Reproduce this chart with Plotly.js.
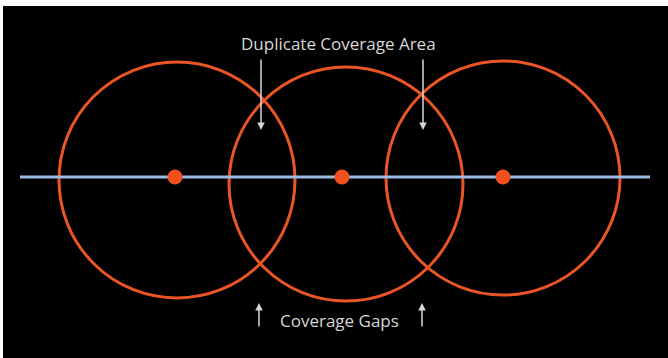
<!DOCTYPE html>
<html>
<head>
<meta charset="utf-8">
<script src="https://cdn.plot.ly/plotly-3.0.1.min.js"></script>
<style>html,body{margin:0;padding:0;background:#fff;}#chart{width:668px;height:358px;}</style>
</head>
<body>
<div id="chart"></div>
<script>
// Diagram data (pixel-like coordinate space)
const circleCx = [177, 346, 503];
const circleCy = [180, 184, 178];
const circleR = [118, 117, 117];
const dotX = [175, 342, 503];
const dotY = [177, 177, 177];
const lineX = [20, 650];
const lineY = [177, 177];
const topLabel = "Duplicate Coverage Area";
const bottomLabel = "Coverage Gaps";
const downArrowX = [261, 423];
const upArrowX = [259, 422];

const orange = '#ea5526';
const txtColor = '#d6d6d6';

const traces = [
  {x: lineX, y: lineY, mode: 'lines', line: {color: '#9dbbe2', width: 3}, hoverinfo: 'skip'},
  {x: dotX, y: dotY, mode: 'markers', marker: {color: '#f24f1f', size: 15}, hoverinfo: 'skip'}
];

const shapes = circleCx.map((cx, i) => ({
  type: 'circle', xref: 'x', yref: 'y',
  x0: cx - circleR[i], x1: cx + circleR[i],
  y0: circleCy[i] - circleR[i], y1: circleCy[i] + circleR[i],
  line: {color: orange, width: 3}, layer: 'below'
}));

const annotations = [
  {x: 338, y: 43, xref: 'x', yref: 'y', text: topLabel, showarrow: false,
   font: {family: 'Open Sans, sans-serif', size: 17, color: txtColor}},
  {x: 339, y: 320, xref: 'x', yref: 'y', text: bottomLabel, showarrow: false,
   font: {family: 'Open Sans, sans-serif', size: 17, color: txtColor}}
];
downArrowX.forEach(x => annotations.push({
  x: x, y: 130, ax: x, ay: 58, xref: 'x', yref: 'y', axref: 'x', ayref: 'y',
  text: '', showarrow: true, arrowhead: 2, arrowsize: 1, arrowwidth: 1.5, arrowcolor: txtColor
}));
upArrowX.forEach(x => annotations.push({
  x: x, y: 303, ax: x, ay: 328, xref: 'x', yref: 'y', axref: 'x', ayref: 'y',
  text: '', showarrow: true, arrowhead: 2, arrowsize: 1, arrowwidth: 1.5, arrowcolor: txtColor
}));

const layout = {
  width: 668, height: 358,
  margin: {l: 3, r: 0, t: 6, b: 0},
  paper_bgcolor: '#ffffff', plot_bgcolor: '#000000',
  showlegend: false,
  xaxis: {range: [3, 668], visible: false, fixedrange: true},
  yaxis: {range: [358, 6], visible: false, fixedrange: true},
  shapes: shapes,
  annotations: annotations
};

Plotly.newPlot('chart', traces, layout, {displayModeBar: false, staticPlot: true});
</script>
</body>
</html>
